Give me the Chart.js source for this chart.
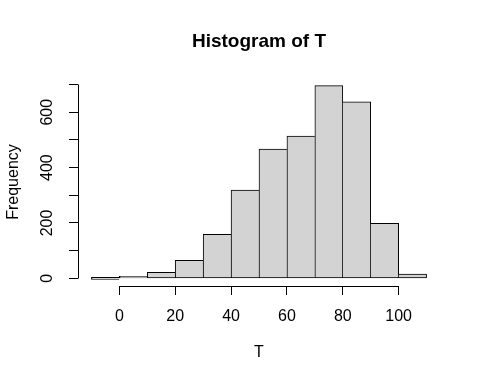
<!DOCTYPE html>
<html>
<head>
<meta charset="utf-8">
<title>Histogram of T</title>
<script src="https://cdn.jsdelivr.net/npm/chart.js@4"></script>
<style>
  html, body { margin: 0; padding: 0; background: #fff; }
  #wrap { width: 480px; height: 384px; }
</style>
</head>
<body>
<div id="wrap"><canvas id="hist" width="480" height="384"></canvas></div>
<script>
  // ── Data ───────────────────────────────────────────────────
  const BIN_WIDTH = 10;
  const BIN_STARTS = [-10, 0, 10, 20, 30, 40, 50, 60, 70, 80, 90, 100];
  const COUNTS = [0, 4, 22, 65, 159, 319, 467, 514, 696, 638, 199, 15];
  const X_TICKS = [0, 20, 40, 60, 80, 100];
  const Y_TICKS = [0, 100, 200, 300, 400, 500, 600, 700];
  const Y_LABELS = [0, 200, 400, 600];

  const TITLE = "Histogram of T";
  const X_TITLE = "T";
  const Y_TITLE = "Frequency";

  // ── R-like ranges (4% extension) ───────────────────────────
  const xLo = BIN_STARTS[0];
  const xHi = BIN_STARTS[BIN_STARTS.length - 1] + BIN_WIDTH;
  const xPad = (xHi - xLo) * 0.04;
  const yMax = Math.max(...COUNTS);
  const yPad = yMax * 0.04;

  const points = BIN_STARTS.map((s, i) => ({ x: s + BIN_WIDTH / 2, y: COUNTS[i] }));

  const FONT = "'Liberation Sans', Arial, sans-serif";
  Chart.defaults.font.family = FONT;
  Chart.defaults.font.size = 16;
  Chart.defaults.color = "#000";

  // shared edges drawn once, on the taller bar
  function edgeWidths(ctx) {
    const i = ctx.dataIndex;
    const v = COUNTS[i];
    const prev = i > 0 ? COUNTS[i - 1] : -1;
    const next = i < COUNTS.length - 1 ? COUNTS[i + 1] : -1;
    return { top: 1, bottom: 1, left: v >= prev ? 1 : 0, right: v > next ? 1 : 0 };
  }

  // ── R-style axis lines + main title ────────────────────────
  const rDecor = {
    id: "rDecor",
    afterDraw(chart) {
      const { ctx, chartArea, scales } = chart;
      const align = (p) => Math.round(p - 0.5) + 0.5;
      ctx.save();
      ctx.strokeStyle = "#000";
      ctx.lineWidth = 1;
      ctx.beginPath();
      const yAx = align(chartArea.left);
      ctx.moveTo(yAx, align(scales.y.getPixelForValue(Y_TICKS[0])));
      ctx.lineTo(yAx, align(scales.y.getPixelForValue(Y_TICKS[Y_TICKS.length - 1])));
      const xAx = align(chartArea.bottom);
      ctx.moveTo(align(scales.x.getPixelForValue(X_TICKS[0])), xAx);
      ctx.lineTo(align(scales.x.getPixelForValue(X_TICKS[X_TICKS.length - 1])), xAx);
      ctx.stroke();

      ctx.fillStyle = "#000";
      ctx.font = "bold 19px " + FONT;
      ctx.textAlign = "center";
      ctx.textBaseline = "alphabetic";
      ctx.fillText(TITLE, (chartArea.left + chartArea.right) / 2, 47);
      ctx.restore();
    },
  };

  new Chart(document.getElementById("hist"), {
    type: "bar",
    data: {
      datasets: [{
        data: points,
        backgroundColor: "#d3d3d3",
        borderColor: "#000",
        borderWidth: edgeWidths,
        borderSkipped: false,
        minBarLength: 2,
        barPercentage: 1,
        categoryPercentage: 1,
      }],
    },
    options: {
      responsive: false,
      animation: false,
      layout: { padding: { top: 78, right: 40, left: 0, bottom: 0 } },
      plugins: { legend: { display: false }, tooltip: { enabled: false }, title: { display: false } },
      scales: {
        x: {
          type: "linear",
          offset: false,
          min: xLo - xPad,
          max: xHi + xPad,
          afterBuildTicks: (axis) => { axis.ticks = X_TICKS.map((v) => ({ value: v })); },
          afterFit: (axis) => { axis.height = 98; },
          grid: { display: true, offset: false, drawOnChartArea: false, drawTicks: true, tickLength: 9, color: "#000" },
          border: { display: false },
          ticks: { padding: 12, maxRotation: 0, autoSkip: false },
          title: { display: true, text: X_TITLE, padding: { top: 0, bottom: 22 } },
        },
        y: {
          min: -yPad,
          max: yMax + yPad,
          afterBuildTicks: (axis) => { axis.ticks = Y_TICKS.map((v) => ({ value: v })); },
          afterFit: (axis) => { axis.width = 78; },
          grid: { display: true, drawOnChartArea: false, drawTicks: true, tickLength: 9, color: "#000" },
          border: { display: false },
          ticks: {
            padding: 8,
            minRotation: 90,
            maxRotation: 90,
            crossAlign: "center",
            autoSkip: false,
            callback: (v) => (Y_LABELS.includes(v) ? String(v) : ""),
          },
          title: { display: true, text: Y_TITLE, padding: { top: 4, bottom: 0 } },
        },
      },
    },
    plugins: [rDecor],
  });
</script>
</body>
</html>
